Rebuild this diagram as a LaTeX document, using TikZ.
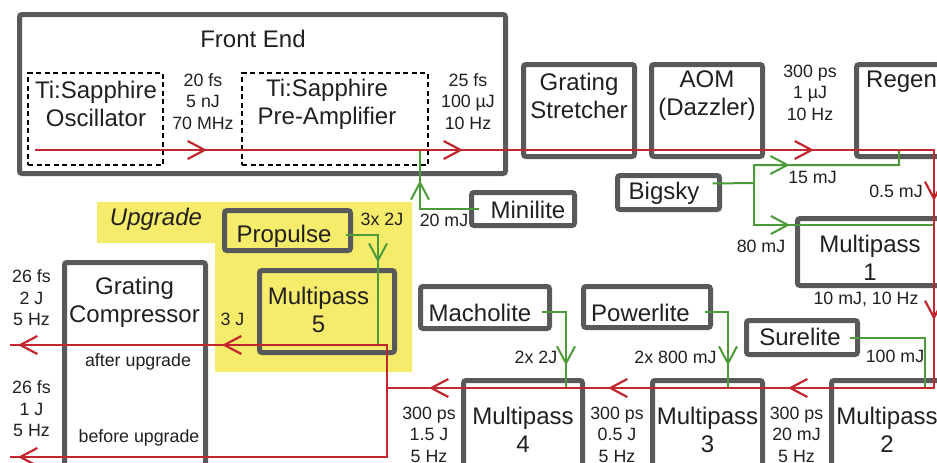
\documentclass[tikz,border=0pt]{standalone}
\usepackage{fontspec}
\setmainfont{Liberation Sans}
\usetikzlibrary{arrows.meta,decorations.markings}
\definecolor{boxgray}{HTML}{58595B}
\definecolor{lasred}{HTML}{C1272D}
\definecolor{pumpgreen}{HTML}{4C9A3A}
\definecolor{upyellow}{HTML}{F4EC6A}
\definecolor{txtcol}{HTML}{231F20}
\newcommand\chevtip{\arrow{Straight Barb[length=17pt,width=18pt]}}
\begin{document}
\begin{tikzpicture}[x=1pt,y=-1pt,
  box/.style={draw=boxgray, line width=5pt, rounded corners=2.5pt, inner sep=0pt},
  dbox/.style={draw=black, line width=2.2pt, dash pattern=on 5pt off 3.5pt, inner sep=0pt},
  big/.style={font=\fontsize{24}{28}\selectfont, text=txtcol, align=center, inner sep=0pt},
  small/.style={font=\fontsize{17.8}{21.5}\selectfont, text=txtcol, align=center, inner sep=0pt},
  beam/.style={draw, color=lasred, line width=2.2pt},
  pump/.style={draw, color=pumpgreen, line width=2pt},
  tips/.style={postaction={decorate}, decoration={markings, #1}}
]
\useasboundingbox (0,0) rectangle (937,463);
\clip (0,0) rectangle (937,463);
\fill[white] (0,0) rectangle (937,463);

% upgrade area
\fill[upyellow] (97,202) -- (412,202) -- (412,372) -- (215,372) -- (215,243) -- (97,243) -- cycle;

% boxes
\node[box, minimum width=486pt, minimum height=159pt] (fe) at (262.5,94) {};
\node[dbox, minimum width=134.8pt, minimum height=91.8pt] (osc) at (95.5,119) {};
\node[dbox, minimum width=185.8pt, minimum height=91.8pt] (pre) at (335,119) {};
\node[box, minimum width=111pt, minimum height=92pt] (gs) at (579,110.5) {};
\node[box, minimum width=111pt, minimum height=92pt] (aom) at (707,110.5) {};
\node[box, minimum width=191pt, minimum height=92pt] (regen) at (952,110.5) {};
\node[box, minimum width=102pt, minimum height=34pt] (bigsky) at (668.5,192.5) {};
\node[box, minimum width=103pt, minimum height=33pt] (minilite) at (523,209) {};
\node[box, minimum width=250pt, minimum height=67pt] (mp1) at (922.5,252) {};
\node[box, minimum width=126pt, minimum height=40pt] (propulse) at (287.5,230.5) {};
\node[box, minimum width=135pt, minimum height=82pt] (mp5) at (327,311.5) {};
\node[box, minimum width=141pt, minimum height=335pt] (comp) at (135,430) {};
\node[box, minimum width=129pt, minimum height=42pt] (macholite) at (485,307.5) {};
\node[box, minimum width=127pt, minimum height=41pt] (powerlite) at (647,307) {};
\node[box, minimum width=111pt, minimum height=34pt] (surelite) at (802,337.5) {};
\node[box, minimum width=119pt, minimum height=217pt] (mp4) at (523,489) {};
\node[box, minimum width=110pt, minimum height=217pt] (mp3) at (707.5,489) {};
\node[box, minimum width=216pt, minimum height=217pt] (mp2) at (939.5,489) {};

% texts
\node[big] (tfe) at (253,39) {Front End};
\node[big] (tosc) at (96,104) {Ti:Sapphire\\Oscillator};
\node[big] (tpre) at (327,104) {Ti:Sapphire\\Pre-Amplifier};
\node[small] (l1) at (203,101.5) {20 fs\\5 nJ\\70 MHz};
\node[small] (l2) at (468,101.5) {25 fs\\100 µJ\\10 Hz};
\node[big] (tgs) at (579,96) {Grating\\Stretcher};
\node[big] (taom) at (707,96) {AOM\\(Dazzler)};
\node[small] (l3) at (810,92.5) {300 ps\\1 µJ\\10 Hz};
\node[big, anchor=west] (tregen) at (866,82) {Regen};
\node[small] (l15) at (812.5,177) {15 mJ};
\node[small] (l05) at (896,191) {0.5 mJ};
\node[big] (tbigsky) at (664,193) {Bigsky};
\node[small] (l80) at (761,246) {80 mJ};
\node[big] (tminilite) at (528,210) {Minilite};
\node[small] (l20) at (444,220) {20 mJ};
\node[big] (tmp1) at (870,257.5) {Multipass\\1};
\node[small] (l10) at (866,299) {10 mJ, 10 Hz};
\node[big, font=\fontsize{24}{28}\selectfont\itshape] (tup) at (156,219) {Upgrade};
\node[big] (tprop) at (284,236) {Propulse};
\node[small] (l3x) at (382,219) {3x 2J};
\node[big] (tmp5) at (318.5,310) {Multipass\\5};
\node[small] (l3j) at (232.5,319) {3 J};
\node[big] (tcomp) at (134.5,302) {Grating\\Compressor};
\node[small] (lafter) at (138,362) {after upgrade};
\node[small] (lbefore) at (139,438) {before upgrade};
\node[small] (lout2) at (31.5,298) {26 fs\\2 J\\5 Hz};
\node[small] (lout1) at (31.5,409) {26 fs\\1 J\\5 Hz};
\node[big] (tmach) at (480,313) {Macholite};
\node[big] (tpow) at (640.5,313) {Powerlite};
\node[big] (tsure) at (800,337) {Surelite};
\node[small] (l2x2) at (536,357) {2x 2J};
\node[small] (l2x8) at (675.5,357) {2x 800 mJ};
\node[small] (l100) at (895,356) {100 mJ};
\node[big] (tmp4) at (523,430) {Multipass\\4};
\node[big] (tmp3) at (707.5,430) {Multipass\\3};
\node[big] (tmp2) at (887,430) {Multipass\\2};
\node[small] (l4) at (429,434.5) {300 ps\\1.5 J\\5 Hz};
\node[small] (l5) at (617,434.5) {300 ps\\0.5 J\\5 Hz};
\node[small] (l6) at (796.5,434.5) {300 ps\\20 mJ\\5 Hz};

% junction coordinates
\coordinate (rstart) at (35,150);
\coordinate (rc1) at (934,150);
\coordinate (rc2) at (934,388);
\coordinate (rbranch) at (387,388);
\coordinate (outA) at (10,345);
\coordinate (outB) at (10,457);
\coordinate (j1) at (420,150);
\coordinate (split) at (754,183);
\coordinate (j2) at (899,150);
\coordinate (j3) at (934,225);
\coordinate (j4) at (378,345);
\coordinate (j5) at (566,388);
\coordinate (j6) at (728,388);
\coordinate (j7) at (925,388);

% pump lines
\draw[pump, tips={mark=at position 87.5pt with {\chevtip}}]
  ([xshift=10pt]minilite.west) -| (j1);
\draw[pump, tips={mark=at position 95pt with {\chevtip}}]
  ([xshift=-9.5pt,yshift=9pt]bigsky.east) -- (split) -- ++(0,-18) -| (j2);
\draw[pump, tips={mark=at position 78pt with {\chevtip}}]
  (split) |- (j3);
\draw[pump, tips={mark=at position 60pt with {\chevtip}}]
  ([xshift=-7.5pt,yshift=-4.5pt]propulse.east) -| (j4);
\draw[pump, tips={mark=at position 78pt with {\chevtip}}]
  ([xshift=-10.5pt,yshift=-4.5pt]macholite.east) -| (j5);
\draw[pump, tips={mark=at position 77pt with {\chevtip}}]
  ([xshift=-8.5pt,yshift=-5pt]powerlite.east) -| (j6);
\draw[pump] ([xshift=-10.5pt]surelite.east) -| (j7);

% laser beam
\draw[beam, line join=miter, tips={mark=at position 172pt with {\chevtip},
    mark=at position 428pt with {\chevtip},
    mark=at position 779pt with {\chevtip},
    mark=at position 950pt with {\chevtip},
    mark=at position 1069pt with {\chevtip},
    mark=at position 1283pt with {\chevtip},
    mark=at position 1463pt with {\chevtip},
    mark=at position 1642pt with {\chevtip}}]
  (rstart) -- (rc1) -- (rc2) -- (rbranch);
\draw[beam, tips={mark=at position 208pt with {\chevtip},
    mark=at position 412pt with {\chevtip}}]
  (rbranch) -- ++(0,-43) -- (outA);
\draw[beam, tips={mark=at position 438pt with {\chevtip}}]
  (rbranch) -- ++(0,69) -- (outB);
\end{tikzpicture}
\end{document}
